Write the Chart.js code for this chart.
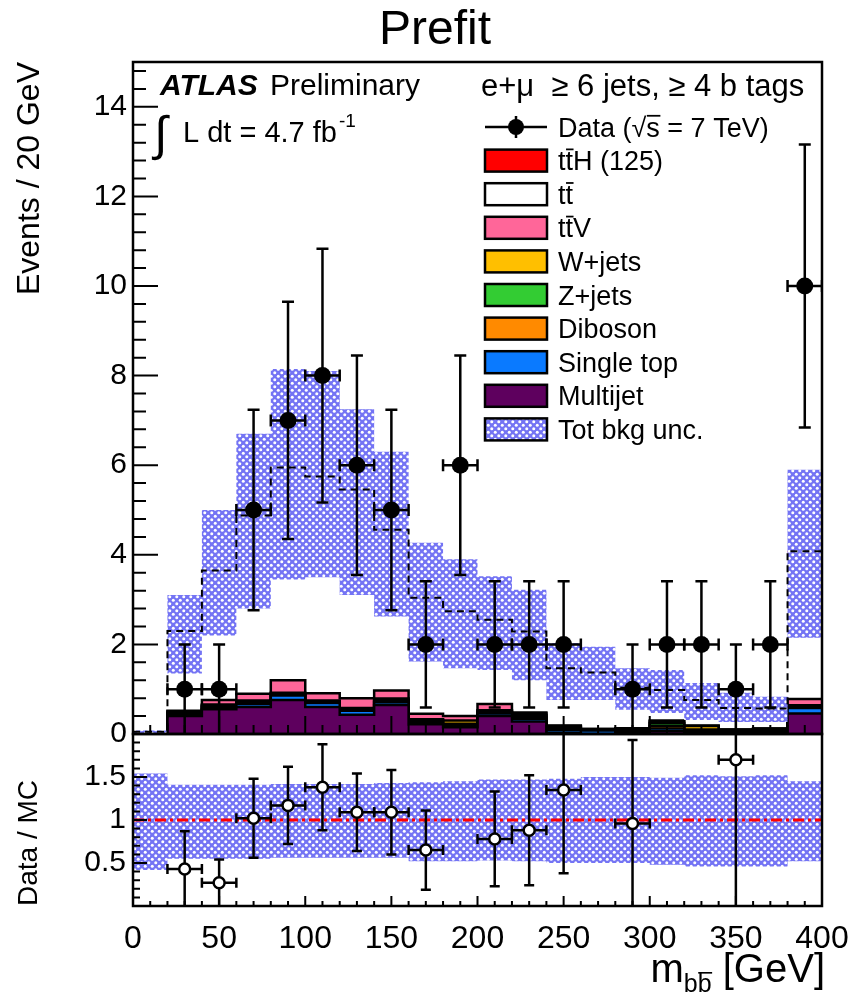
<!DOCTYPE html>
<html>
<head>
<meta charset="utf-8">
<title>Prefit</title>
<script src="https://cdn.jsdelivr.net/npm/chart.js@4.4.1/dist/chart.umd.min.js"></script>
<style>
  body { margin: 0; background: #fff; }
  #page { position: relative; width: 852px; height: 997px; overflow: hidden; }
  #page canvas { position: absolute; left: 0; top: 0; }
  #title { position: absolute; left: 0; top: 4px; width: 870px; text-align: center;
           font: 48px 'Liberation Sans', Arial, sans-serif; line-height: 48px; }
</style>
</head>
<body>
<div id="page">
  <canvas id="mainChart" width="852" height="997"></canvas>
  <canvas id="ratioChart" width="852" height="997"></canvas>
  <div id="title">Prefit</div>
</div>
<script>
const FONT = "'Liberation Sans', Arial, Helvetica, sans-serif";
Chart.defaults.font.family = FONT;
Chart.defaults.color = '#000';

// m_bb binning (GeV)
const binEdges   = [0, 20, 40, 60, 80, 100, 120, 140, 160, 180, 200, 220, 240, 260, 280, 300, 320, 340, 360, 380, 400];
const binCentres = [10, 30, 50, 70, 90, 110, 130, 150, 170, 190, 210, 230, 250, 270, 290, 310, 330, 350, 370, 390];

// data (events / 20 GeV) and errors
const dataEvents = [null, 1, 1, 5, 7, 8, 6, 5, 2, 6, 2, 2, 2, null, 1, 2, 2, 1, 2, 10];
const dataErr    = [null, 1, 1, 2.24, 2.65, 2.83, 2.45, 2.24, 1.41, 2.45, 1.41, 1.41, 1.41, null, 1, 1.41, 1.41, 1, 1.41, 3.16];

// prefit prediction, bottom of the stack first
const multijet  = [0, 0.40, 0.55, 0.60, 0.76, 0.60, 0.43, 0.65, 0.22, 0.15, 0.40, 0.28, 0.03, 0, 0, 0.06, 0.02, 0, 0, 0.46];
const singleTop = [0.03, 0.03, 0.05, 0.07, 0.10, 0.09, 0.09, 0.06, 0.05, 0.04, 0.06, 0.06, 0.06, 0.08, 0.05, 0.06, 0.04, 0.04, 0.04, 0.12];
const diboson   = [0, 0.02, 0.02, 0.02, 0.02, 0.02, 0.02, 0.02, 0.02, 0.02, 0.02, 0.04, 0.03, 0.01, 0.03, 0.06, 0.02, 0.02, 0.03, 0.02];
const zJets     = [0, 0.02, 0.02, 0.03, 0.02, 0.02, 0.02, 0.03, 0.02, 0.02, 0.02, 0.04, 0.03, 0.01, 0.03, 0.06, 0.02, 0.02, 0.03, 0.02];
const wJets     = [0, 0.03, 0.02, 0.03, 0.02, 0.02, 0.02, 0.03, 0.02, 0.07, 0.03, 0.04, 0.03, 0.01, 0.02, 0.04, 0.08, 0.02, 0.02, 0.02];
const ttV       = [0, 0.02, 0.10, 0.15, 0.28, 0.16, 0.22, 0.18, 0.12, 0.10, 0.14, 0.02, 0.01, 0, 0, 0.02, 0.01, 0, 0, 0.14];
const ttbar     = [0.02, 1.76, 2.86, 3.92, 4.66, 4.75, 4.58, 3.52, 2.55, 2.29, 1.85, 1.78, 1.26, 1.25, 0.89, 0.67, 0.56, 0.47, 0.44, 3.27];
const ttH       = [0, 0.02, 0.03, 0.06, 0.09, 0.09, 0.08, 0.07, 0.04, 0.05, 0.03, 0.03, 0.02, 0.01, 0.01, 0.01, 0.01, 0.01, 0.01, 0.03];

// total background uncertainty band (absolute)
const bandLo = [0.02, 1.35, 2.20, 2.80, 3.45, 3.50, 3.10, 2.62, 1.62, 1.47, 1.43, 1.20, 0.76, 0.76, 0.54, 0.47, 0.31, 0.27, 0.27, 2.15];
const bandHi = [0.08, 3.10, 5.00, 6.70, 8.15, 8.10, 7.25, 6.30, 4.27, 3.90, 3.52, 3.22, 2.03, 1.95, 1.47, 1.43, 1.14, 0.92, 0.83, 5.90];

// ratio panel
const ratio     = [null, 0.43, 0.27, 1.02, 1.17, 1.38, 1.09, 1.09, 0.65, null, 0.78, 0.88, 1.35, null, 0.96, null, null, 1.70, null, null];
const ratioErr  = [null, 0.44, 0.27, 0.46, 0.45, 0.50, 0.45, 0.49, 0.46, null, 0.55, 0.64, 0.97, null, 0.97, null, null, 1.72, null, null];
const ratioBandLo = [0.42, 0.55, 0.55, 0.55, 0.56, 0.56, 0.56, 0.56, 0.52, 0.52, 0.53, 0.52, 0.50, 0.50, 0.50, 0.48, 0.46, 0.46, 0.46, 0.52];
const ratioBandHi = [1.54, 1.41, 1.41, 1.41, 1.42, 1.42, 1.42, 1.43, 1.44, 1.45, 1.47, 1.47, 1.48, 1.50, 1.50, 1.49, 1.52, 1.51, 1.52, 1.45];
const ratioRef = 1;

const stackDefs = [
  { label: 'Multijet',   values: multijet,  color: '#5e005e', line: true },
  { label: 'Single top', values: singleTop, color: '#0a7aff', line: true },
  { label: 'Diboson',    values: diboson,   color: '#ff8a00', line: true },
  { label: 'Z+jets',     values: zJets,     color: '#33cc33', line: true },
  { label: 'W+jets',     values: wJets,     color: '#ffbf00', line: true },
  { label: 't{t}V',      values: ttV,       color: '#ff6699', line: true },
  { label: 't{t}',       values: ttbar,     color: '#ffffff', line: false },
  { label: 't{t}H (125)',values: ttH,       color: '#ff0000', line: false }
];

const LW = 2.5;

// histogram outline: one point per bin edge, last value repeated
function steps(values) {
  return binEdges.map((x, i) => ({ x: x, y: values[Math.min(i, values.length - 1)] }));
}

function stackUp(layers) {
  let run = binCentres.map(() => 0);
  return layers.map(l => (run = run.map((v, i) => v + l[i])));
}

function hatch(canvasId) {
  const t = document.createElement('canvas');
  t.width = 7; t.height = 7;
  const g = t.getContext('2d');
  g.fillStyle = '#7474f4';
  g.fillRect(0, 0, 7, 7);
  g.fillStyle = '#ffffff';
  g.beginPath(); g.arc(1.75, 1.75, 1.5, 0, 2 * Math.PI); g.fill();
  g.beginPath(); g.arc(5.25, 5.25, 1.5, 0, 2 * Math.PI); g.fill();
  return document.getElementById(canvasId).getContext('2d').createPattern(t, 'repeat');
}

// text with {overlined} parts
function richText(ctx, str, x, y, size, style) {
  ctx.font = (style || '') + ' ' + size + 'px ' + FONT;
  let cx = x;
  const parts = str.match(/\{[^}]*\}|[^{]+/g);
  parts.forEach(p => {
    const bar = p[0] === '{';
    const t = bar ? p.slice(1, -1) : p;
    const w = ctx.measureText(t).width;
    ctx.fillText(t, cx, y);
    if (bar) ctx.fillRect(cx + size * 0.02, y - size * 0.80, w, Math.max(1.5, size * 0.065));
    cx += w;
  });
  return cx - x;
}

function frame(ctx, a) {
  ctx.save();
  ctx.strokeStyle = '#000';
  ctx.lineWidth = LW;
  ctx.strokeRect(a.left, a.top, a.right - a.left, a.bottom - a.top);
  ctx.restore();
}

function innerTicks(ctx, a, scale, n, step, majorEvery, majorLen, minorLen, vertical) {
  ctx.save();
  ctx.strokeStyle = '#000';
  ctx.lineWidth = 2;
  ctx.beginPath();
  for (let i = 0; i <= n; i++) {
    const p = scale.getPixelForValue(i * step);
    const len = i % majorEvery === 0 ? majorLen : minorLen;
    if (vertical) { ctx.moveTo(a.left, p); ctx.lineTo(a.left + len, p); }
    else { ctx.moveTo(p, a.bottom); ctx.lineTo(p, a.bottom - len); }
  }
  ctx.stroke();
  ctx.restore();
}

const errorBars = {
  id: 'errorBars',
  beforeDatasetDraw(chart, args) {
    const ds = chart.data.datasets[args.index];
    if (!ds.yErr) return;
    const { ctx, chartArea: a, scales: { x, y } } = chart;
    ctx.save();
    ctx.beginPath();
    ctx.rect(a.left, a.top, a.right - a.left, a.bottom - a.top);
    ctx.clip();
    ctx.strokeStyle = '#000';
    ctx.lineWidth = LW;
    const c = ds.cap;
    ds.data.forEach((p, i) => {
      if (p.y === null) return;
      const px = x.getPixelForValue(p.x), py = y.getPixelForValue(p.y);
      const xl = x.getPixelForValue(binEdges[i]), xr = x.getPixelForValue(binEdges[i + 1]);
      const yt = y.getPixelForValue(p.y + ds.yErr[i]);
      const yb = y.getPixelForValue(Math.max(0, p.y - ds.yErr[i]));
      ctx.beginPath();
      ctx.moveTo(px, yt); ctx.lineTo(px, yb);
      ctx.moveTo(xl, py); ctx.lineTo(xr, py);
      ctx.moveTo(px - c, yt); ctx.lineTo(px + c, yt);
      if (p.y - ds.yErr[i] > 0.02) { ctx.moveTo(px - c, yb); ctx.lineTo(px + c, yb); }
      ctx.moveTo(xl, py - c); ctx.lineTo(xl, py + c);
      ctx.moveTo(xr, py - c); ctx.lineTo(xr, py + c);
      ctx.stroke();
    });
    ctx.restore();
  }
};

const mainDecor = {
  id: 'mainDecor',
  afterDraw(chart) {
    const { ctx, chartArea: a, scales: { x, y } } = chart;
    frame(ctx, a);
    innerTicks(ctx, a, y, 37, 0.4, 5, 25, 13, true);
    innerTicks(ctx, a, x, 40, 10, 5, 18, 9, false);

    ctx.save();
    ctx.fillStyle = '#000';
    ctx.textAlign = 'left';
    ctx.textBaseline = 'alphabetic';
    ctx.font = 'italic bold 30px ' + FONT;
    ctx.fillText('ATLAS', 160, 95);
    ctx.font = '30px ' + FONT;
    ctx.fillText('Preliminary', 270, 95);
    ctx.font = '48px ' + FONT;
    ctx.fillText('\u222B', 154, 150);
    ctx.font = '29px ' + FONT;
    ctx.fillText('L dt = 4.7 fb', 183, 142);
    const wl = ctx.measureText('L dt = 4.7 fb').width;
    ctx.font = '19px ' + FONT;
    ctx.fillText('-1', 183 + wl + 2, 127);

    // legend
    ctx.font = '31px ' + FONT;
    ctx.fillText('e+\u03BC  \u2265 6 jets, \u2265 4 b tags', 481, 96);
    const bx = 485, bw = 62, bh = 22, tx = 558, top = 127, step = 33.6;
    // data entry
    ctx.strokeStyle = '#000';
    ctx.lineWidth = LW;
    ctx.beginPath();
    ctx.moveTo(bx, top); ctx.lineTo(bx + bw, top);
    ctx.moveTo(bx + bw / 2, top - 11); ctx.lineTo(bx + bw / 2, top + 11);
    ctx.stroke();
    ctx.beginPath(); ctx.arc(bx + bw / 2, top, 8, 0, 2 * Math.PI); ctx.fill();
    richText(ctx, 'Data (\u221A{s} = 7 TeV)', tx, top + 9.5, 27);
    const entries = stackDefs.slice().reverse().map(d => ({ label: d.label, fill: d.color }));
    entries.push({ label: 'Tot bkg unc.', fill: chart.$hatch });
    entries.forEach((e, i) => {
      const cy = top + step * (i + 1);
      ctx.fillStyle = e.fill;
      ctx.fillRect(bx, cy - bh / 2, bw, bh);
      ctx.strokeRect(bx, cy - bh / 2, bw, bh);
      ctx.fillStyle = '#000';
      richText(ctx, e.label, tx, cy + 9.5, 27);
    });
    ctx.restore();
  }
};

const ratioDecor = {
  id: 'ratioDecor',
  afterDraw(chart) {
    const { ctx, chartArea: a, scales: { x, y } } = chart;
    frame(ctx, a);
    innerTicks(ctx, a, y, 20, 0.1, 5, 14, 7, true);
    innerTicks(ctx, a, x, 40, 10, 5, 10, 5, false);
    // x-axis title m_bb [GeV], right aligned
    ctx.save();
    ctx.fillStyle = '#000';
    ctx.textBaseline = 'alphabetic';
    ctx.textAlign = 'left';
    ctx.font = '40px ' + FONT;
    const wm = ctx.measureText('m').width;
    const wg = ctx.measureText(' [GeV]').width;
    ctx.font = '25px ' + FONT;
    const ws = ctx.measureText('bb').width;
    const x0 = a.right + 3 - wm - ws - wg;
    const base = 982;
    ctx.font = '40px ' + FONT;
    ctx.fillText('m', x0, base);
    richText(ctx, 'b{b}', x0 + wm, base + 10, 25);
    ctx.font = '40px ' + FONT;
    ctx.fillText(' [GeV]', x0 + wm + ws, base);
    ctx.restore();
  }
};

// ---------- main panel ----------
const cum = stackUp(stackDefs.map(d => d.values));
const mainHatch = hatch('mainChart');
const datasets = stackDefs.map((d, i) => ({
  label: d.label,
  data: steps(cum[i]),
  stepped: true,
  fill: i === 0 ? 'origin' : '-1',
  backgroundColor: d.color,
  borderColor: d.line ? '#000' : 'rgba(0,0,0,0)',
  borderWidth: LW,
  pointRadius: 0,
  order: 3 + i
}));
datasets.push({
  label: 'band low', data: steps(bandLo), stepped: true, fill: false,
  borderColor: 'rgba(0,0,0,0)', borderWidth: 0, pointRadius: 0, order: 2
});
datasets.push({
  label: 'Tot bkg unc.', data: steps(bandHi), stepped: true, fill: '-1',
  backgroundColor: mainHatch, borderColor: 'rgba(0,0,0,0)', borderWidth: 0, pointRadius: 0, order: 2
});
datasets.push({
  label: 'total', data: steps(cum[cum.length - 1]), stepped: true, fill: false,
  borderColor: '#000', borderWidth: 2, borderDash: [7, 5], pointRadius: 0, order: 1
});
datasets.push({
  label: 'Data', data: binCentres.map((x, i) => ({ x: x, y: dataEvents[i] })),
  showLine: false, pointRadius: 8.5, pointBackgroundColor: '#000', pointBorderWidth: 0,
  yErr: dataErr, cap: 6, order: 0
});

const mainChart = new Chart(document.getElementById('mainChart'), {
  type: 'line',
  data: { datasets: datasets },
  options: {
    responsive: false,
    animation: false,
    events: [],
    layout: { padding: { left: 0, top: 62, right: 30, bottom: 263 } },
    plugins: { legend: { display: false }, tooltip: { enabled: false }, title: { display: false } },
    scales: {
      x: { type: 'linear', min: 0, max: 400, display: false },
      y: {
        type: 'linear', min: 0, max: 15,
        afterFit(s) { s.width = 133; s.paddingTop = 0; s.paddingBottom = 0; },
        grid: { display: false, drawTicks: false },
        border: { display: false },
        ticks: { stepSize: 2, includeBounds: false, padding: 6, color: '#000', font: { size: 30 } },
        title: { display: true, text: 'Events / 20 GeV', align: 'end', color: '#000',
                 font: { size: 32 }, padding: { top: 11, bottom: 0 } }
      }
    }
  },
  plugins: [errorBars, mainDecor]
});
mainChart.$hatch = mainHatch;
mainChart.draw();

// ---------- ratio panel ----------
const ratioHatch = hatch('ratioChart');
new Chart(document.getElementById('ratioChart'), {
  type: 'line',
  data: {
    datasets: [
      { label: 'ratio band low', data: steps(ratioBandLo), stepped: true, fill: false,
        borderColor: 'rgba(0,0,0,0)', borderWidth: 0, pointRadius: 0, order: 3 },
      { label: 'ratio band', data: steps(ratioBandHi), stepped: true, fill: '-1',
        backgroundColor: ratioHatch, borderColor: 'rgba(0,0,0,0)', borderWidth: 0, pointRadius: 0, order: 3 },
      { label: 'unity', data: [{ x: binEdges[0], y: ratioRef }, { x: binEdges[binEdges.length - 1], y: ratioRef }],
        fill: false, borderColor: '#ff0000', borderWidth: 3, borderDash: [11, 4, 3, 4], pointRadius: 0, order: 2 },
      { label: 'Data / MC', data: binCentres.map((x, i) => ({ x: x, y: ratio[i] })),
        showLine: false, pointRadius: 5.5, pointBackgroundColor: '#ffffff', pointBorderColor: '#000',
        pointBorderWidth: 2.5, yErr: ratioErr, cap: 5, order: 0 }
    ]
  },
  options: {
    responsive: false,
    animation: false,
    events: [],
    layout: { padding: { left: 0, top: 734, right: 30, bottom: 0 } },
    plugins: { legend: { display: false }, tooltip: { enabled: false } },
    scales: {
      x: {
        type: 'linear', min: 0, max: 400, position: 'bottom',
        afterFit(s) { s.height = 91; s.paddingLeft = 0; s.paddingRight = 0; },
        grid: { display: false, drawTicks: false },
        border: { display: false },
        ticks: { stepSize: 50, padding: 14, maxRotation: 0, autoSkip: false, color: '#000', font: { size: 32 } }
      },
      y: {
        type: 'linear', min: 0, max: 2,
        afterFit(s) { s.width = 133; s.paddingTop = 0; s.paddingBottom = 0; },
        grid: { display: false, drawTicks: false },
        border: { display: false },
        ticks: { stepSize: 0.5, padding: 7, color: '#000', font: { size: 30 },
                 callback: v => (v > 0 && v < 2 ? v : null) },
        title: { display: true, text: 'Data / MC', align: 'start', color: '#000',
                 font: { size: 28 }, padding: { top: 12, bottom: 0 } }
      }
    }
  },
  plugins: [errorBars, ratioDecor]
});
</script>
</body>
</html>
